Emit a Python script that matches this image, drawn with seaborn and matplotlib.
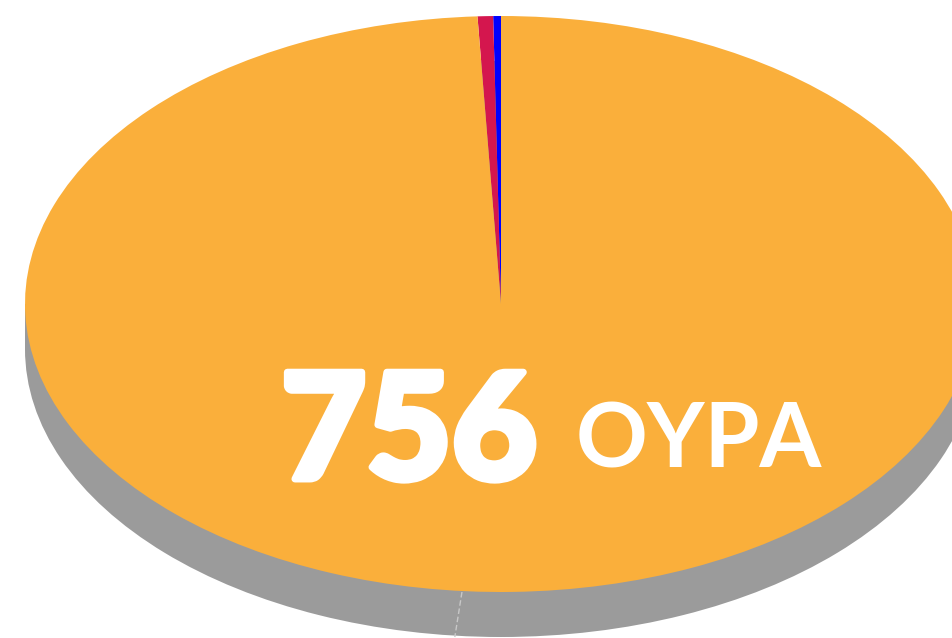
import matplotlib
matplotlib.use("Agg")
import matplotlib.pyplot as plt
import matplotlib.patheffects as pe
from matplotlib.patches import Rectangle
import seaborn as sns

# данные
labels = ['blue', 'crimson', 'orange']
values = [2, 4, 756]
colors = ['#0000FF', '#D4164E', '#FAAF3B']
total_label = '756'
unit_label = 'OYPA'

sns.set_theme(style="white")
plt.rcParams['font.family'] = ['Lato', 'DejaVu Sans']

W, H = 953, 638
fig = plt.figure(figsize=(W / 100, H / 100), dpi=100)
ax = fig.add_axes([0, 0, 1, 1])

# центр и радиусы эллипса в пикселях
cx, cy, rx, ry, depth = 501, 304, 476, 288, 45

# боковая стенка (тень)
ax.pie([1], colors=['#9B9B9B'], radius=1, center=(0, -depth / ry),
       wedgeprops=dict(linewidth=0))
ax.add_patch(Rectangle((-1, -depth / ry), 2, depth / ry, color='#9B9B9B', lw=0))
ax.plot([-0.082, -0.097], [-1.0, -1.0 - depth / ry], color='#C8C8C8', lw=1,
        ls=(0, (4, 2)))

# верхняя крышка
ax.pie(values, colors=colors, startangle=90, counterclock=True, radius=1,
       center=(0, 0), wedgeprops=dict(linewidth=0))

ax.set_aspect('auto')
ax.set_xlim(-cx / rx, (W - cx) / rx)
ax.set_ylim(-(H - cy) / ry, cy / ry)
ax.axis('off')

fig.text(281 / W, 1 - 479 / H, total_label, color='white', fontsize=106,
         fontweight='black', ha='left', va='baseline',
         path_effects=[pe.withStroke(linewidth=5, foreground='white')])
fig.text(576 / W, 1 - 467 / H, unit_label, color='white', fontsize=64,
         fontweight='bold', ha='left', va='baseline')

fig.savefig('out.png', dpi=100)
